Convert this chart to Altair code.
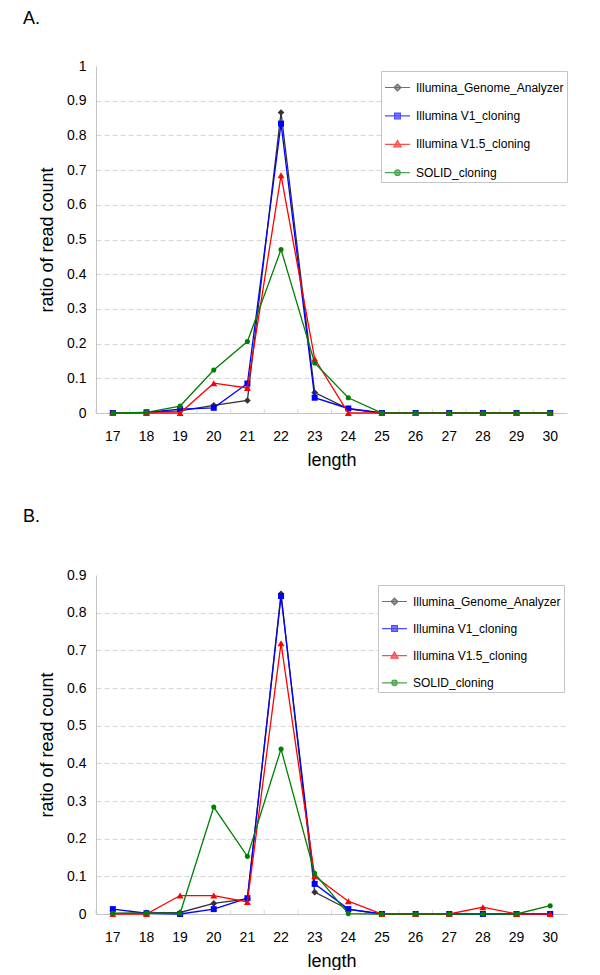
import altair as alt
import pandas as pd

FONT = "Liberation Sans"

lengths = list(range(17, 31))
series_names = ["Illumina_Genome_Analyzer", "Illumina V1_cloning",
                "Illumina V1.5_cloning", "SOLID_cloning"]

# Panel A values
a_genome = [0.0, 0.002, 0.006, 0.022, 0.036, 0.866, 0.059, 0.012, 0, 0, 0, 0, 0, 0]
a_v1 = [0.0, 0.002, 0.011, 0.015, 0.085, 0.834, 0.044, 0.013, 0, 0, 0, 0, 0, 0]
a_v15 = [0.0, 0.0, 0.0, 0.086, 0.072, 0.685, 0.156, 0.0, 0, 0, 0, 0, 0, 0]
a_solid = [0.0, 0.002, 0.020, 0.124, 0.206, 0.471, 0.144, 0.044, 0, 0, 0, 0, 0, 0]

# Panel B values
b_genome = [0.001, 0.003, 0.004, 0.028, 0.040, 0.850, 0.058, 0.012, 0, 0, 0, 0, 0, 0]
b_v1 = [0.013, 0.002, 0.0, 0.013, 0.042, 0.844, 0.080, 0.013, 0, 0, 0, 0, 0, 0]
b_v15 = [0.0, 0.0, 0.049, 0.049, 0.032, 0.719, 0.100, 0.034, 0, 0, 0, 0.018, 0, 0]
b_solid = [0.002, 0.002, 0.002, 0.284, 0.153, 0.438, 0.108, 0.001, 0, 0, 0, 0, 0, 0.022]

y_ticks_a = [0, 0.1, 0.2, 0.3, 0.4, 0.5, 0.6, 0.7, 0.8, 0.9, 1]
y_ticks_b = [0, 0.1, 0.2, 0.3, 0.4, 0.5, 0.6, 0.7, 0.8, 0.9]

colors = ["#333333", "#0000ff", "#ff0000", "#008000"]
shapes = ["diamond", "square", "triangle-up", "circle"]
marker_sizes = [45, 36, 48, 26]
legend_paths = [
    "M-1,0H1M0,-0.27L0.27,0L0,0.27L-0.27,0Z",
    "M-1,0H1M-0.23,-0.23H0.23V0.23H-0.23Z",
    "M-1,0H1M0,-0.3L0.29,0.2L-0.29,0.2Z",
    "M-1,0H1M0.22,0A0.22,0.22,0,1,1,-0.22,0A0.22,0.22,0,1,1,0.22,0Z",
]


def long_df(values_list):
    rows = []
    for name, vals in zip(series_names, values_list):
        for l, v in zip(lengths, vals):
            rows.append({"length": l, "series": name, "value": v})
    return pd.DataFrame(rows)


def x_enc(band_pos):
    return alt.X(
        "length:O", title="length", bandPosition=band_pos,
        scale=alt.Scale(type="band", paddingInner=0, paddingOuter=0),
        axis=alt.Axis(labelAngle=0, ticks=False, tickSize=0, labelPadding=16,
                      titlePadding=8, grid=False),
    )


def panel(values_list, label, ymax, yticks, height, lx, ly, rowpad, title_offset):
    df = long_df(values_list)
    top = yticks[-1]
    y_scale = alt.Scale(domain=[0, ymax], nice=False, zero=True)
    y_axis = alt.Axis(values=yticks, format=".1~f", ticks=False, tickSize=0,
                      labelPadding=10, titlePadding=10, grid=True,
                      gridDash=[5, 3], gridColor="#d6d6d6", labelOverlap=False,
                      gridOpacity={"condition": {"test": f"datum.value >= {top - 0.001}",
                                                 "value": 0}, "value": 1})
    y = alt.Y("value:Q", title="ratio of read count", scale=y_scale, axis=y_axis)
    layers = []
    # small tick marks at category boundaries
    layers.append(
        alt.Chart(pd.DataFrame({"length": lengths}))
        .mark_tick(orient="vertical", size=4, thickness=1, color="#c8c8c8", yOffset=-2)
        .encode(x=x_enc(0),
                y=alt.YDatum(0, type="quantitative", title="ratio of read count",
                             scale=y_scale, axis=y_axis))
    )
    for name, color, shape, size in zip(series_names, colors, shapes, marker_sizes):
        layers.append(
            alt.Chart(df)
            .transform_filter(alt.datum.series == name)
            .mark_line(color=color, strokeWidth=1.3,
                       point=alt.OverlayMarkDef(shape=shape, filled=True, size=size,
                                                color=color, opacity=1))
            .encode(x=x_enc(0.5), y=y)
        )
    leg = alt.Legend(title=None, orient="none", legendX=lx, legendY=ly,
                     labelFont=FONT, labelFontSize=12, labelColor="black",
                     symbolSize=625, symbolStrokeWidth=1.2, strokeColor="#c4c4c4",
                     fillColor="white", padding=3, rowPadding=rowpad, labelOffset=5,
                     labelLimit=300)
    legend_layer = (
        alt.Chart(pd.DataFrame({"series": series_names}))
        .transform_filter("false")
        .mark_point(filled=True)
        .encode(
            fill=alt.Fill("series:N", scale=alt.Scale(domain=series_names, range=colors),
                          legend=leg),
            stroke=alt.Stroke("series:N", scale=alt.Scale(domain=series_names, range=colors),
                              legend=leg),
            shape=alt.Shape("series:N", scale=alt.Scale(domain=series_names, range=legend_paths),
                            legend=leg),
        )
    )
    layers.append(legend_layer)
    return alt.layer(*layers).properties(
        width=471, height=height,
        title=alt.TitleParams(text=label, anchor="start", frame="group", dx=-73,
                              offset=title_offset, fontSize=18, font=FONT,
                              fontWeight="normal", color="black"),
    )


chart_a = panel([a_genome, a_v1, a_v15, a_solid], "A.", 1.0, y_ticks_a, 347,
                285, 5, 8.4, 31)
chart_b = panel([b_genome, b_v1, b_v15, b_solid], "B.", 0.9, y_ticks_b, 339,
                282, 10, 7.1, 42)

chart = (
    alt.vconcat(chart_a, chart_b, spacing=39)
    .resolve_scale(fill="independent", stroke="independent", shape="independent",
                   y="independent", x="independent")
    .resolve_legend(fill="independent", stroke="independent", shape="independent")
    .properties(padding={"left": 15, "top": 2, "right": 0, "bottom": 0})
    .configure_view(stroke=None)
    .configure_axis(labelFont=FONT, titleFont=FONT, labelFontSize=14, titleFontSize=18,
                    titleFontWeight="normal", labelColor="black", titleColor="black",
                    domainColor="#c4c4c4", domainWidth=1)
)

chart.save("out.html", embed_options={"renderer": "svg", "actions": False})
